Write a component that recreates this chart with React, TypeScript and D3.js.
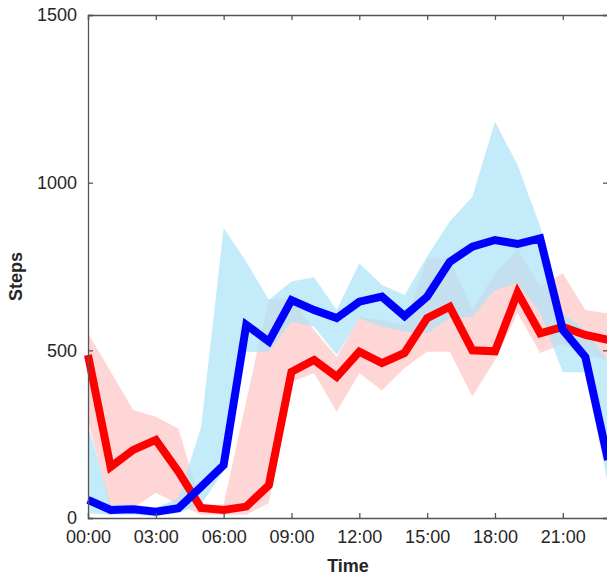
import React, { useEffect, useRef } from "react";
import * as d3 from "d3";

const hours = [0, 1, 2, 3, 4, 5, 6, 7, 8, 9, 10, 11, 12, 13, 14, 15, 16, 17, 18, 19, 20, 21, 22, 23];
const tickHours = [0, 3, 6, 9, 12, 15, 18, 21];
const tickLabels = ["00:00", "03:00", "06:00", "09:00", "12:00", "15:00", "18:00", "21:00"];
const yTicks = [0, 500, 1000, 1500];

const redMean = [486, 152, 203, 233, 138, 30, 24, 34, 98, 436, 471, 421, 496, 462, 492, 596, 630, 500, 497, 672, 551, 570, 546, 531];
const redUpper = [552, 437, 322, 302, 267, 40, 40, 350, 653, 656, 560, 480, 600, 590, 575, 775, 770, 620, 730, 800, 690, 730, 620, 610];
const redLower = [292, 20, 30, 75, 40, 10, 10, 10, 45, 406, 432, 317, 432, 380, 447, 496, 496, 362, 471, 611, 492, 520, 490, 470];

const blueMean = [54, 24, 26, 19, 29, 93, 158, 576, 526, 650, 620, 596, 645, 660, 602, 660, 764, 809, 829, 817, 834, 561, 480, 173];
const blueUpper = [277, 40, 40, 30, 60, 270, 865, 764, 650, 705, 718, 620, 760, 695, 665, 780, 884, 958, 1182, 1053, 869, 610, 560, 470];
const blueLower = [15, 10, 10, 5, 15, 40, 140, 495, 496, 585, 570, 486, 596, 570, 556, 552, 596, 600, 680, 700, 611, 435, 435, 100];

const W = 607;
const H = 577;
const left = 88;
const right = 608;
const top = 15;
const bottom = 518;
const font = "'Liberation Sans', Arial, Helvetica, sans-serif";
const axisColor = "#555";

export default function App() {
  const ref = useRef<SVGSVGElement>(null);

  useEffect(() => {
    const svg = d3.select(ref.current);
    svg.selectAll("*").remove();

    const x = d3.scaleLinear().domain([0, 23]).range([left, right]);
    const y = d3.scaleLinear().domain([0, 1500]).range([bottom, top]);

    const band = (lo: number[], hi: number[]) =>
      d3.area<number>().x(d => x(d)).y0((d, i) => y(lo[i])).y1((d, i) => y(hi[i]))(hours);
    const line = (vals: number[]) =>
      d3.line<number>().x(d => x(d)).y((d, i) => y(vals[i]))(hours);

    const g = svg.append("g");

    // shaded bands
    g.append("path").attr("d", band(redLower, redUpper)).attr("fill", "#ff0000").attr("fill-opacity", 0.16);
    g.append("path").attr("d", band(blueLower, blueUpper)).attr("fill", "#abe2f6").attr("fill-opacity", 0.7);

    // mean lines
    g.append("path").attr("d", line(redMean)).attr("fill", "none").attr("stroke", "#ff0000")
      .attr("stroke-width", 8).attr("stroke-linejoin", "miter");
    g.append("path").attr("d", line(blueMean)).attr("fill", "none").attr("stroke", "#0000ff")
      .attr("stroke-width", 8).attr("stroke-linejoin", "miter");

    // axes box
    const axes = svg.append("g");
    const xb = d3.axisBottom(x).tickValues(tickHours).tickSize(-5).tickPadding(12)
      .tickFormat((d, i) => tickLabels[i]);
    const xt = d3.axisTop(x).tickValues(tickHours).tickSize(-5).tickFormat(() => "");
    const yl = d3.axisLeft(y).tickValues(yTicks).tickSize(-5).tickPadding(11).tickFormat(d3.format("d"));
    const yr = d3.axisRight(y).tickValues(yTicks).tickSize(-5).tickFormat(() => "");

    axes.append("g").attr("transform", `translate(0,${bottom})`).call(xb);
    axes.append("g").attr("transform", `translate(0,${top})`).call(xt);
    axes.append("g").attr("transform", `translate(${left},0)`).call(yl);
    axes.append("g").attr("transform", `translate(${right},0)`).call(yr);

    axes.selectAll(".domain").attr("stroke", axisColor).attr("stroke-width", 1.3);
    axes.selectAll(".tick line").attr("stroke", axisColor).attr("stroke-width", 1.3);
    axes.selectAll(".tick text").attr("fill", "#262626").style("font-family", font).style("font-size", "18px");

    svg.append("text")
      .attr("x", (left + right) / 2)
      .attr("y", 572)
      .attr("text-anchor", "middle")
      .style("font-family", font)
      .style("font-size", "18px")
      .style("font-weight", "bold")
      .attr("fill", "#262626")
      .text("Time");

    svg.append("text")
      .attr("transform", `translate(22,${(top + bottom) / 2 + 10}) rotate(-90)`)
      .attr("text-anchor", "middle")
      .style("font-family", font)
      .style("font-size", "18px")
      .style("font-weight", "bold")
      .attr("fill", "#262626")
      .text("Steps");
  }, []);

  return (
    <svg ref={ref} width={W} height={H} style={{ position: "absolute", left: 0, top: 0, background: "#fff" }} />
  );
}
